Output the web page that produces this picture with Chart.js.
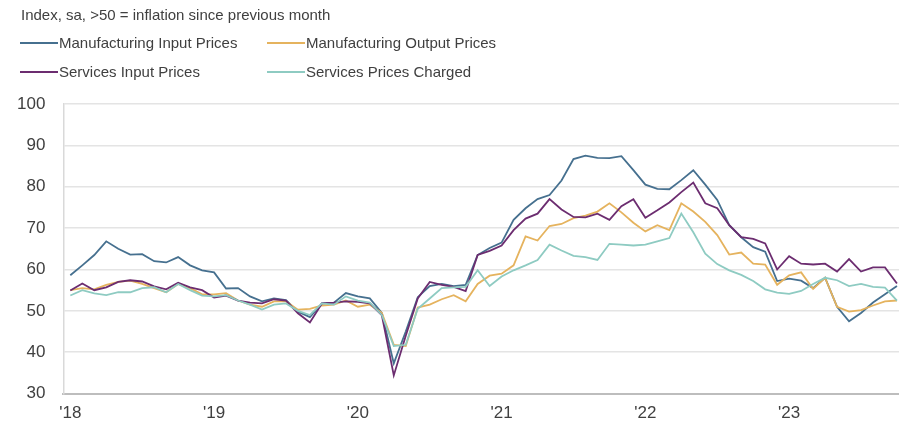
<!DOCTYPE html>
<html>
<head>
<meta charset="utf-8">
<script src="https://cdn.jsdelivr.net/npm/chart.js@4"></script>
<style>
  html, body { margin: 0; padding: 0; background: #fff; overflow: hidden; }
  #wrap { position: relative; width: 899px; height: 427px; font-family: "Liberation Sans", Arial, sans-serif; color: #404040; }
  #chart { position: absolute; left: 0; top: 0; }
  .txt { position: absolute; font-size: 15px; line-height: 17px; white-space: nowrap; }
  .swatch { position: absolute; width: 38px; height: 2px; }
</style>
</head>
<body>
<div id="wrap">
  <canvas id="chart" width="899" height="427"></canvas>
  <div class="txt" style="left:21px; top:6px;">Index, sa, &gt;50 = inflation since previous month</div>
  <div id="legend"></div>
</div>
<script>
// x-axis year labels (one every 12 months, starting Jan 2018)
var yearTicks = ["'18", "'19", "'20", "'21", "'22", "'23"];

// monthly series, Jan 2018 - Oct 2023
var mfgInput = [58.6,61,63.5,66.8,65,63.6,63.7,62,61.7,63,61,59.8,
  59.3,55.4,55.5,53.5,52.3,53,52.6,49.8,48.5,51.8,52,54.3,
  53.5,53,49.5,37.3,45,53.3,56,56.5,56,56.3,63.5,65.2,
  66.5,72,74.8,77,78,81.5,86.7,87.5,87,86.9,87.4,84,
  80.5,79.5,79.4,81.6,84,80.5,76.8,70.7,67.8,65.4,64.3,57.2,
  57.8,57.3,55.5,58,51,47.5,49.5,52,54,56];
var mfgOutput = [55,55.5,55.2,56.3,57,57.3,56.5,55.5,54.5,56.5,55.5,54,
  54,54.3,52.5,51.5,51,52.3,52.3,50.3,50.5,51.3,51.5,52.5,
  51,51.5,49.5,41.8,41.5,50.8,51.5,52.8,53.8,52.3,56.5,58.5,
  59,61,68,67,70.5,71,72.4,73,74,76,73.8,71.3,
  69.2,70.7,69.5,76,74,71.5,68.3,63.6,64.1,61.4,61.2,56.3,
  58.6,59.3,55.3,58,51,49.8,50.2,51.3,52.3,52.5];
var servInput = [54.9,56.6,55,55.7,57,57.4,57.1,55.9,55.2,56.8,55.7,55,
  53.2,53.7,52.5,52,51.8,52.8,52.5,49.4,47.2,51.8,52,52.3,
  52.2,51.8,49,34.4,44,53,57,56.3,55.8,54.8,63.5,64.5,
  65.8,69.5,72.3,73.5,77,74.5,72.7,72.6,73.5,72,75.3,77,
  72.5,74.3,76.2,78.7,81,76,74.8,70.7,67.8,67.4,66.3,60,
  63.2,61.4,61.2,61.4,59.5,62.5,59.5,60.5,60.5,56.6];
var servCharged = [53.7,55,54.2,53.8,54.5,54.5,55.5,55.7,54.5,56.5,55,53.7,
  53.5,53.8,52.5,51.5,50.3,51.5,51.8,50,49,51.8,51.5,53.5,
  52.5,52,49,41.5,41.8,50.5,53,55.5,55.7,55.8,59.8,56,
  58.3,59.8,61,62.3,66,64.6,63.3,63,62.3,66.2,66,65.8,
  66,66.8,67.6,73.5,69,63.8,61.3,59.8,58.7,57.2,55.2,54.4,
  54.1,54.8,56.5,58,57.4,56,56.5,55.8,55.6,52.5];

var seriesNames = ["Manufacturing Input Prices", "Manufacturing Output Prices", "Services Input Prices", "Services Prices Charged"];
var seriesColors = ["#46708f", "#e5b35e", "#6c2d70", "#8ecbc2"];
var seriesData = [mfgInput, mfgOutput, servInput, servCharged];

// html legend, two columns
var legendPos = [[20, 34], [267, 34], [20, 63], [267, 63]];
var legend = document.getElementById("legend");
seriesNames.forEach(function (name, k) {
  var sw = document.createElement("div");
  sw.className = "swatch";
  sw.style.left = legendPos[k][0] + "px";
  sw.style.top = (legendPos[k][1] + 8) + "px";
  sw.style.background = seriesColors[k];
  legend.appendChild(sw);
  var t = document.createElement("div");
  t.className = "txt";
  t.style.left = (legendPos[k][0] + 39) + "px";
  t.style.top = legendPos[k][1] + "px";
  t.textContent = name;
  legend.appendChild(t);
});

var ctx = document.getElementById("chart");
var chart = new Chart(ctx, {
  type: 'line',
  data: {
    datasets: seriesData.map(function (arr, k) {
      return {
        label: seriesNames[k],
        data: arr.map(function (v, i) { return { x: i, y: v }; }),
        borderColor: seriesColors[k],
        borderWidth: 1.8,
        pointRadius: 0,
        tension: 0,
        fill: false,
        order: 4 - k
      };
    })
  },
  options: {
    responsive: false,
    animation: false,
    layout: { padding: { top: 104, left: -1, right: 0, bottom: -7 } },
    plugins: { legend: { display: false }, tooltip: { enabled: false } },
    scales: {
      x: {
        type: 'linear',
        min: -0.58,
        max: 69.17,
        afterBuildTicks: function (axis) {
          axis.ticks = yearTicks.map(function (_, j) { return { value: j * 12 }; });
        },
        ticks: {
          autoSkip: false,
          maxRotation: 0,
          padding: 10,
          color: '#404040',
          font: { family: 'Liberation Sans', size: 17 },
          callback: function (value) { return yearTicks[value / 12]; }
        },
        grid: { display: false, drawTicks: false },
        border: { display: true, color: '#bdbdbd', width: 2 }
      },
      y: {
        min: 30,
        max: 100,
        ticks: {
          stepSize: 10,
          padding: 18,
          color: '#404040',
          font: { family: 'Liberation Sans', size: 17 }
        },
        grid: {
          drawTicks: false,
          lineWidth: 1.5,
          color: function (c) { return c.tick && c.tick.value === 30 ? 'rgba(0,0,0,0)' : '#e4e4e4'; }
        },
        border: { display: true, color: '#d9d9d9', width: 1.5 }
      }
    }
  }
});
</script>
</body>
</html>
